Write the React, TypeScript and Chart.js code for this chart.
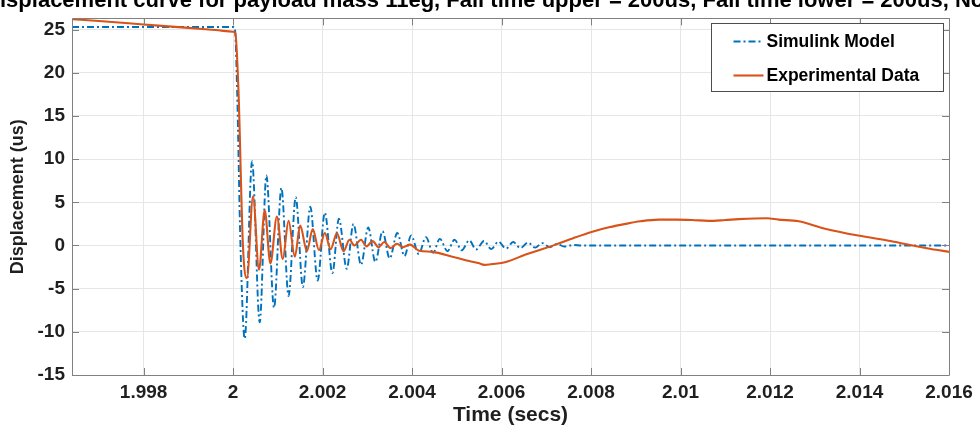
import React, { useEffect, useRef } from 'react';
import { Chart, registerables } from 'chart.js';

Chart.register(...registerables);

// ---------- data ----------
const TITLE = 'Displacement curve for payload mass 11eg, Fall time upper = 200us, Fall time lower = 200us, No';
const X_LABEL = 'Time (secs)';
const Y_LABEL = 'Displacement (us)';
const SERIES_NAMES = ['Simulink Model', 'Experimental Data'];

const X_MIN = 1.9964;
const X_MAX = 2.016;
const X_STEP = 0.002;
const Y_MIN = -15;
const Y_MAX = 26.3;
const Y_STEP = 5;

const simT = [
  1.9964, 2.0, 2.00004, 2.00009, 2.000165, 2.00026,
  2.000424, 2.000595, 2.000744, 2.000915, 2.00108, 2.00124, 2.0014, 2.00156, 2.001725, 2.00189,
  2.00205, 2.00222, 2.002365, 2.00254, 2.00269, 2.00286, 2.00302, 2.00318, 2.00334, 2.0035,
  2.00367, 2.00383, 2.00398, 2.00415, 2.00431, 2.00447, 2.00462, 2.00479, 2.00495, 2.00511,
  2.00528, 2.00543, 2.00561, 2.00577, 2.00593, 2.0061, 2.00626, 2.00642, 2.00659, 2.00675,
  2.00691, 2.00708, 2.00724, 2.0074, 2.0076, 2.0078, 2.016,
];
const simY = [
  25.3, 25.3, 25.1, 18, 0, -10.8,
  9.75, -8.9, 8.1, -7.2, 6.65, -5.85, 5.6, -4.8, 4.5, -4.07,
  3.8, -3.2, 3.1, -2.7, 2.5, -2.25, 2.1, -1.9, 1.65, -1.5,
  1.45, -1.23, 1.15, -1.0, 0.97, -0.85, 0.77, -0.66, 0.66, -0.55,
  0.59, -0.47, 0.52, -0.42, 0.45, -0.36, 0.4, -0.3, 0.33, -0.25,
  0.27, -0.2, 0.18, -0.12, 0.05, 0, 0,
];

const expT = [
  1.9964, 1.997, 1.998, 1.999, 1.9996, 2.0, 2.00005, 2.00012, 2.00022, 2.00031,
  2.000446, 2.00058, 2.000707, 2.000834, 2.00098, 2.00111, 2.00124, 2.00138, 2.0015, 2.00165,
  2.00178, 2.00192, 2.00205, 2.00218, 2.00232, 2.00247, 2.0026, 2.00271, 2.00286, 2.00298,
  2.00312, 2.00325, 2.00338, 2.00352, 2.00366, 2.0038, 2.00395, 2.00416, 2.00446, 2.0049,
  2.0052, 2.0055, 2.00561, 2.0058, 2.0061, 2.00654, 2.0069, 2.00721, 2.0076, 2.00803,
  2.0084, 2.00877, 2.0091, 2.00951, 2.0099, 2.01026, 2.01063, 2.011, 2.0113, 2.01193,
  2.01219, 2.01264, 2.01323, 2.01397, 2.01472, 2.01516, 2.0156, 2.016,
];
const expY = [
  26.2, 26.0, 25.6, 25.2, 24.95, 24.75, 24.6, 18, 0, -3.8,
  5.7, -2.8, 4.07, -2.07, 3.35, -1.57, 2.86, -1.3, 2.3, -0.66,
  1.9, -0.55, 1.45, -0.43, 1.42, -0.66, 0.66, 0.0, 0.66, -0.1,
  0.5, -0.2, 0.4, -0.3, 0.2, -0.2, 0.1, -0.6, -0.74, -1.3,
  -1.7, -2.07, -2.25, -2.15, -1.9, -1.05, -0.45, 0.1, 0.85, 1.6,
  2.1, 2.5, 2.8, 3.0, 3.0, 2.95, 2.85, 2.95, 3.05, 3.15,
  3.0, 2.8, 1.95, 1.15, 0.48, 0.02, -0.4, -0.74,
];

// ---------- styles ----------
const FONT = '"Liberation Sans", Arial, Helvetica, sans-serif';
const BLUE = '#0072BD';
const ORANGE = '#D95319';
const AXIS_COLOR = '#808080';
const GRID_COLOR = '#e6e6e6';
const TEXT_COLOR = '#1f1f1f';
const BLUE_DASH = [7, 3, 2, 3];

const framePlugin = {
  id: 'matlabFrame',
  afterDatasetsDraw(chart: any) {
    const { ctx, chartArea: a, scales } = chart;
    const tickLen = 7;
    ctx.save();
    ctx.strokeStyle = AXIS_COLOR;
    ctx.lineWidth = 1;
    ctx.beginPath();
    ctx.rect(Math.round(a.left) + 0.5, Math.round(a.top) + 0.5, Math.round(a.right - a.left), Math.round(a.bottom - a.top));
    ctx.stroke();
    ctx.beginPath();
    scales.x.ticks.forEach((t: any) => {
      const px = Math.round(scales.x.getPixelForValue(t.value)) + 0.5;
      ctx.moveTo(px, a.bottom);
      ctx.lineTo(px, a.bottom - tickLen);
      ctx.moveTo(px, a.top);
      ctx.lineTo(px, a.top + tickLen);
    });
    scales.y.ticks.forEach((t: any) => {
      const py = Math.round(scales.y.getPixelForValue(t.value)) + 0.5;
      ctx.moveTo(a.left, py);
      ctx.lineTo(a.left + tickLen, py);
      ctx.moveTo(a.right, py);
      ctx.lineTo(a.right - tickLen, py);
    });
    ctx.stroke();
    ctx.restore();
  },
};

const legendPlugin = {
  id: 'matlabLegend',
  afterDraw(chart: any) {
    const { ctx, chartArea: a } = chart;
    const w = 232;
    const h = 68;
    const left = Math.round(a.right - 6 - w) + 0.5;
    const top = Math.round(a.top + 5) + 0.5;
    ctx.save();
    ctx.fillStyle = '#ffffff';
    ctx.fillRect(left, top, w, h);
    ctx.strokeStyle = '#4d4d4d';
    ctx.lineWidth = 1;
    ctx.strokeRect(left, top, w, h);
    const rows = [top + 18, top + 52];
    chart.data.datasets.forEach((ds: any, i: number) => {
      const y = rows[i];
      ctx.save();
      ctx.strokeStyle = ds.borderColor;
      ctx.lineWidth = ds.borderWidth;
      ctx.setLineDash(ds.borderDash || []);
      ctx.beginPath();
      ctx.moveTo(left + 22, y);
      ctx.lineTo(left + 52, y);
      ctx.stroke();
      ctx.restore();
      ctx.fillStyle = '#000000';
      ctx.font = `bold 17.5px ${FONT}`;
      ctx.textBaseline = 'middle';
      ctx.textAlign = 'left';
      ctx.fillText(ds.label, left + 55, y + 1);
    });
    ctx.restore();
  },
};

const titlePlugin = {
  id: 'matlabTitle',
  afterDraw(chart: any) {
    const { ctx } = chart;
    ctx.save();
    ctx.font = `bold 22px ${FONT}`;
    ctx.fillStyle = '#000000';
    ctx.textBaseline = 'alphabetic';
    ctx.textAlign = 'left';
    const dW = ctx.measureText(TITLE.charAt(0)).width;
    ctx.fillText(TITLE, -dW, 7);
    ctx.restore();
  },
};

export default function App() {
  const ref = useRef<HTMLCanvasElement | null>(null);

  useEffect(() => {
    if (!ref.current) return;
    const chart = new Chart(ref.current, {
      type: 'line',
      data: {
        datasets: [
          {
            label: SERIES_NAMES[0],
            data: simT.map((t, i) => ({ x: t, y: simY[i] })),
            borderColor: BLUE,
            borderWidth: 1.9,
            borderDash: BLUE_DASH,
            pointRadius: 0,
            fill: false,
            cubicInterpolationMode: 'monotone',
            order: 1,
          },
          {
            label: SERIES_NAMES[1],
            data: expT.map((t, i) => ({ x: t, y: expY[i] })),
            borderColor: ORANGE,
            borderWidth: 2.1,
            pointRadius: 0,
            fill: false,
            cubicInterpolationMode: 'monotone',
            order: 0,
          },
        ],
      },
      options: {
        animation: false,
        responsive: false,
        layout: { padding: { left: 0, right: 31, top: 12, bottom: 0 } },
        plugins: {
          legend: { display: false },
          tooltip: { enabled: false },
          title: { display: false },
        },
        scales: {
          x: {
            type: 'linear',
            min: X_MIN,
            max: X_MAX,
            afterFit: (s: any) => { s.height = 57; },
            grid: { color: GRID_COLOR, lineWidth: 1, drawTicks: false },
            border: { display: false },
            ticks: {
              stepSize: X_STEP,
              includeBounds: false,
              autoSkip: false,
              maxRotation: 0,
              padding: 6.5,
              color: TEXT_COLOR,
              font: { family: FONT, size: 19, weight: 'bold', lineHeight: 1.2 },
              callback: (v: any) => String(Number(Number(v).toFixed(3))),
            },
            title: {
              display: true,
              text: X_LABEL,
              color: TEXT_COLOR,
              font: { family: FONT, size: 21, weight: 'bold', lineHeight: 1.2 },
              padding: { top: 0, bottom: 4.5 },
            },
          },
          y: {
            type: 'linear',
            min: Y_MIN,
            max: Y_MAX,
            afterFit: (s: any) => { s.width = 72; },
            grid: { color: GRID_COLOR, lineWidth: 1, drawTicks: false },
            border: { display: false },
            ticks: {
              stepSize: Y_STEP,
              includeBounds: false,
              padding: 7,
              color: TEXT_COLOR,
              font: { family: FONT, size: 19, weight: 'bold', lineHeight: 1.2 },
            },
            title: {
              display: true,
              text: Y_LABEL,
              color: TEXT_COLOR,
              font: { family: FONT, size: 18, weight: 'bold', lineHeight: 1.2 },
              padding: { top: 7, bottom: 0 },
            },
          },
        },
      } as any,
      plugins: [framePlugin, legendPlugin, titlePlugin],
    });
    return () => chart.destroy();
  }, []);

  return (
    <div style={{ position: 'fixed', left: 0, top: 0, width: 980, height: 432, background: '#ffffff' }}>
      <canvas ref={ref} width={980} height={432} style={{ display: 'block' }} />
    </div>
  );
}
